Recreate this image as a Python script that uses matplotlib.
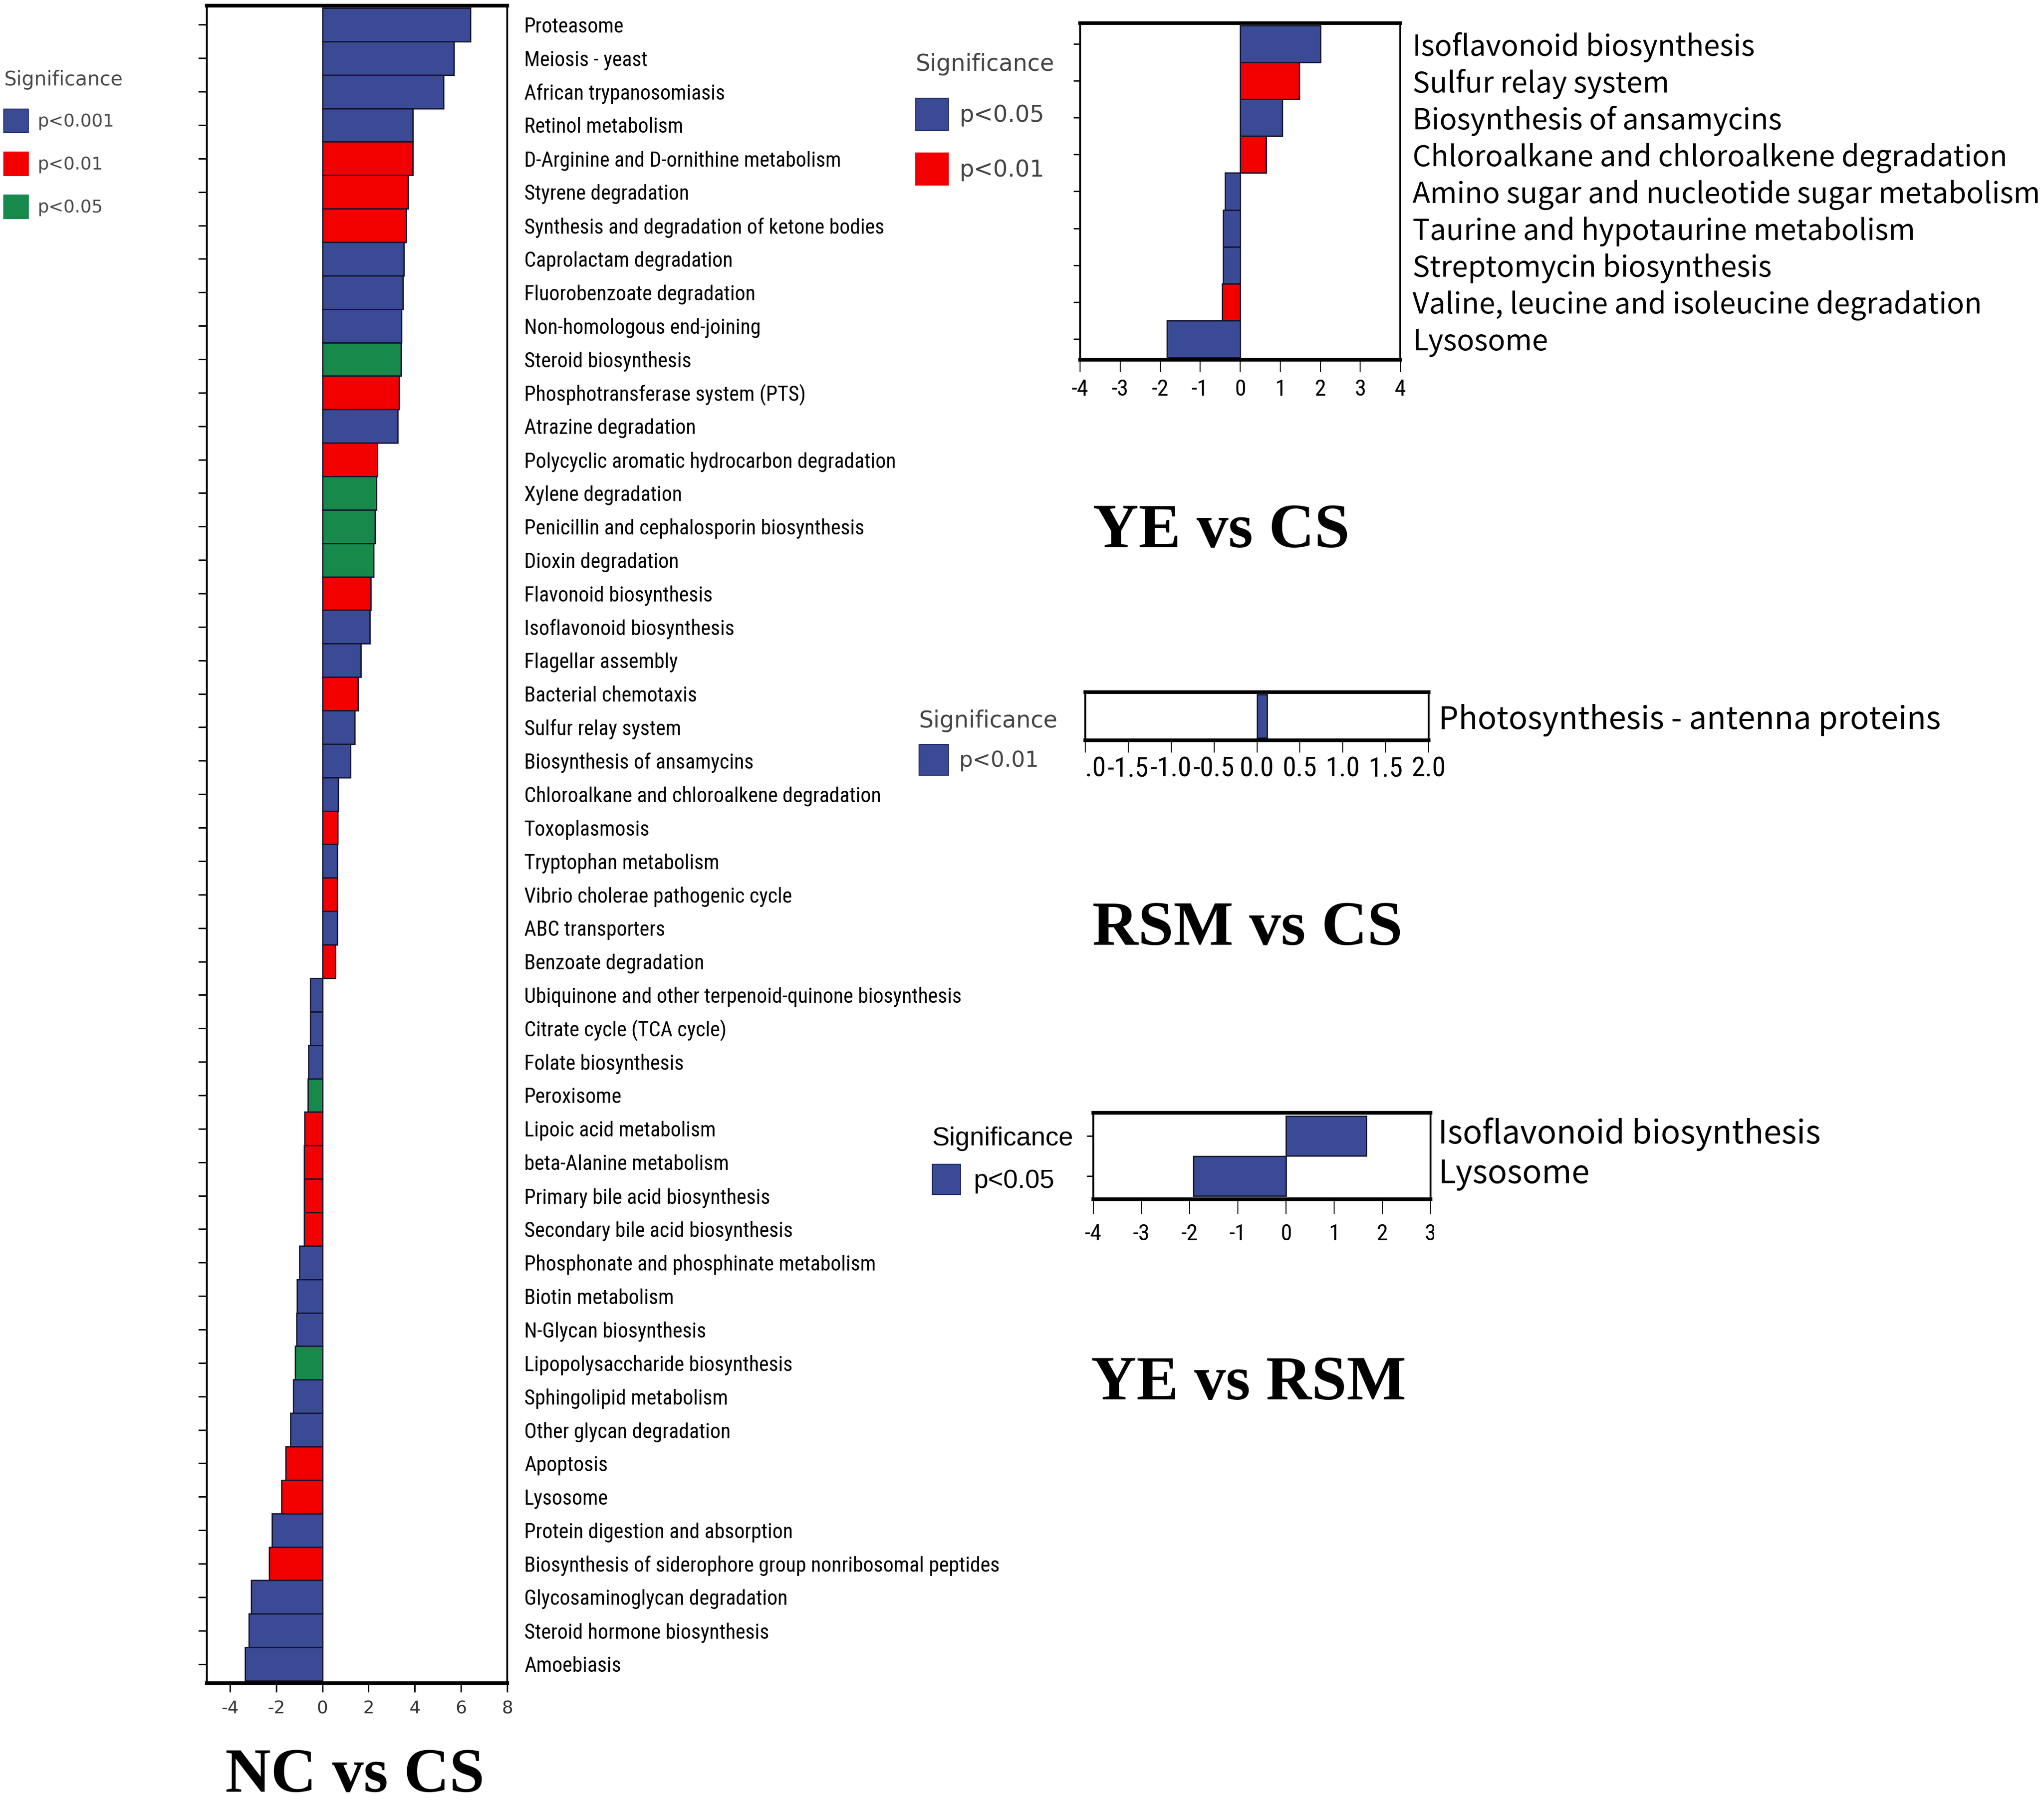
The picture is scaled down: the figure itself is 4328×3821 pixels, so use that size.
import matplotlib
matplotlib.use('Agg')
import matplotlib.pyplot as plt
from matplotlib.patches import Patch
from matplotlib.transforms import Bbox, TransformedBbox, ScaledTranslation

plt.rcParams['axes.unicode_minus'] = False

W, H = 4328, 3821
BLUE = '#3a4a95'
RED = '#f20000'
GREEN = '#178a4b'

NARROW = ['Liberation Sans Narrow', 'Roboto Condensed', 'Noto Sans Condensed',
          'DejaVu Sans Condensed', 'DejaVu Sans']
YAHEI = ['Noto Sans CJK SC', 'DejaVu Sans']
SERIF = ['Liberation Serif', 'DejaVu Serif']

# ---- NC vs CS ----
nc_pathways = [
    'Proteasome', 'Meiosis - yeast', 'African trypanosomiasis', 'Retinol metabolism',
    'D-Arginine and D-ornithine metabolism', 'Styrene degradation',
    'Synthesis and degradation of ketone bodies', 'Caprolactam degradation',
    'Fluorobenzoate degradation', 'Non-homologous end-joining', 'Steroid biosynthesis',
    'Phosphotransferase system (PTS)', 'Atrazine degradation',
    'Polycyclic aromatic hydrocarbon degradation', 'Xylene degradation',
    'Penicillin and cephalosporin biosynthesis', 'Dioxin degradation',
    'Flavonoid biosynthesis', 'Isoflavonoid biosynthesis', 'Flagellar assembly',
    'Bacterial chemotaxis', 'Sulfur relay system', 'Biosynthesis of ansamycins',
    'Chloroalkane and chloroalkene degradation', 'Toxoplasmosis', 'Tryptophan metabolism',
    'Vibrio cholerae pathogenic cycle', 'ABC transporters', 'Benzoate degradation',
    'Ubiquinone and other terpenoid-quinone biosynthesis', 'Citrate cycle (TCA cycle)',
    'Folate biosynthesis', 'Peroxisome', 'Lipoic acid metabolism', 'beta-Alanine metabolism',
    'Primary bile acid biosynthesis', 'Secondary bile acid biosynthesis',
    'Phosphonate and phosphinate metabolism', 'Biotin metabolism', 'N-Glycan biosynthesis',
    'Lipopolysaccharide biosynthesis', 'Sphingolipid metabolism', 'Other glycan degradation',
    'Apoptosis', 'Lysosome', 'Protein digestion and absorption',
    'Biosynthesis of siderophore group nonribosomal peptides', 'Glycosaminoglycan degradation',
    'Steroid hormone biosynthesis', 'Amoebiasis']
nc_values = [6.4, 5.7, 5.24, 3.91, 3.92, 3.71, 3.63, 3.52, 3.48, 3.43, 3.4, 3.32, 3.25,
             2.37, 2.33, 2.28, 2.22, 2.1, 2.05, 1.66, 1.55, 1.4, 1.22, 0.68, 0.67, 0.65,
             0.65, 0.65, 0.56, -0.52, -0.52, -0.6, -0.63, -0.77, -0.78, -0.78, -0.78,
             -1.0, -1.1, -1.12, -1.17, -1.25, -1.38, -1.58, -1.78, -2.18, -2.3, -3.08,
             -3.18, -3.35]
nc_sig = ['p<0.001', 'p<0.001', 'p<0.001', 'p<0.001', 'p<0.01', 'p<0.01', 'p<0.01',
          'p<0.001', 'p<0.001', 'p<0.001', 'p<0.05', 'p<0.01', 'p<0.001', 'p<0.01',
          'p<0.05', 'p<0.05', 'p<0.05', 'p<0.01', 'p<0.001', 'p<0.001', 'p<0.01',
          'p<0.001', 'p<0.001', 'p<0.001', 'p<0.01', 'p<0.001', 'p<0.01', 'p<0.001',
          'p<0.01', 'p<0.001', 'p<0.001', 'p<0.001', 'p<0.05', 'p<0.01', 'p<0.01',
          'p<0.01', 'p<0.01', 'p<0.001', 'p<0.001', 'p<0.001', 'p<0.05', 'p<0.001',
          'p<0.001', 'p<0.01', 'p<0.01', 'p<0.001', 'p<0.01', 'p<0.001', 'p<0.001',
          'p<0.001']
nc_levels = ['p<0.001', 'p<0.01', 'p<0.05']
nc_colors = [BLUE, RED, GREEN]

# ---- YE vs CS ----
ye_cs_pathways = ['Isoflavonoid biosynthesis', 'Sulfur relay system', 'Biosynthesis of ansamycins',
                  'Chloroalkane and chloroalkene degradation',
                  'Amino sugar and nucleotide sugar metabolism',
                  'Taurine and hypotaurine metabolism', 'Streptomycin biosynthesis',
                  'Valine, leucine and isoleucine degradation', 'Lysosome']
ye_cs_values = [2.0, 1.47, 1.05, 0.65, -0.38, -0.43, -0.43, -0.45, -1.83]
ye_cs_sig = ['p<0.05', 'p<0.01', 'p<0.05', 'p<0.01', 'p<0.05', 'p<0.05', 'p<0.05',
             'p<0.01', 'p<0.05']
ye_cs_levels = ['p<0.05', 'p<0.01']
ye_cs_colors = [BLUE, RED]

# ---- RSM vs CS ----
rsm_cs_pathways = ['Photosynthesis - antenna proteins']
rsm_cs_values = [0.12]
rsm_cs_sig = ['p<0.01']
rsm_cs_levels = ['p<0.01']
rsm_cs_colors = [BLUE]

# ---- YE vs RSM ----
ye_rsm_pathways = ['Isoflavonoid biosynthesis', 'Lysosome']
ye_rsm_values = [1.67, -1.92]
ye_rsm_sig = ['p<0.05', 'p<0.05']
ye_rsm_levels = ['p<0.05']
ye_rsm_colors = [BLUE]

fig = plt.figure(figsize=(W / 100, H / 100), dpi=100)
renderer = fig.canvas.get_renderer()


def fit_size(text, width_px, family, weight='normal', stretch='normal'):
    probe = fig.text(0, 0, text, fontsize=100, family=family, weight=weight,
                     fontstretch=stretch)
    w = probe.get_window_extent(renderer).width
    probe.remove()
    return 100 * width_px / w


def bar_panel(box, names, values, sig, levels, colors, margin, xlim, xticks):
    x0, y0, x1, y1 = box
    ax = fig.add_axes([x0 / W, 1 - y1 / H, (x1 - x0) / W, (y1 - y0) / H])
    palette = dict(zip(levels, colors))
    y = list(range(len(names)))
    ax.barh(y, values, height=1.0, color=[palette[s] for s in sig],
            edgecolor='#15152e', linewidth=2)
    ax.set_ylim(len(names) - 0.5 + margin, -0.5 - margin)
    ax.set_xlim(*xlim)
    ax.set_xticks(xticks)
    ax.set_yticks(y, names)
    for side in ('top', 'bottom'):
        ax.spines[side].set_linewidth(5.5)
    for side in ('left', 'right'):
        ax.spines[side].set_linewidth(2.8)
    ax.tick_params(axis='y', left=True, right=False, labelleft=False, labelright=True,
                   direction='out')
    return ax


def condense(labels):
    for t in labels:
        t.set_fontfamily(NARROW)
        t.set_fontstretch('condensed')


def clip_label(label, x0_px, x1_px):
    box = Bbox([[x0_px / W, 0], [x1_px / W, 1]])
    label.set_clip_box(TransformedBbox(box, fig.transFigure))
    label.set_clip_on(True)


def patch_height(target_px, size_pt):
    # legend handle height is fs*(0.65*hh + 0.245)
    fs = size_pt * 100 / 72
    return (target_px / fs - 0.245) / 0.65


def add_legend(levels, colors, x, y, size, title_size, family, color, hl, patch_px,
               spacing, textpad):
    handles = [Patch(facecolor=c, edgecolor='#1e2a66' if c == BLUE else c, linewidth=1.5)
               for c in colors]
    leg = fig.legend(handles, levels, title='Significance', loc='upper left',
                     bbox_to_anchor=(x / W, 1 - y / H), bbox_transform=fig.transFigure,
                     frameon=False, prop={'family': family, 'size': size},
                     title_fontproperties={'family': family, 'size': title_size},
                     handlelength=hl, handleheight=patch_height(patch_px, size),
                     handletextpad=textpad, labelspacing=spacing, borderpad=0,
                     borderaxespad=0, alignment='left')
    for t in leg.get_texts():
        t.set_color(color)
    leg.get_title().set_color(color)


def panel_title(text, xc, baseline, width_px):
    size = fit_size(text, width_px, SERIF, 'bold')
    fig.text(xc / W, 1 - baseline / H, text, ha='center', va='baseline',
             fontsize=size, family=SERIF, weight='bold')


# NC vs CS
ax = bar_panel((438, 12, 1074, 3565), nc_pathways, nc_values, nc_sig, nc_levels, nc_colors,
               0.07, (-5, 8), range(-4, 9, 2))
size = fit_size(max(nc_pathways, key=len), 1007, NARROW, stretch='condensed')
ax.tick_params(axis='y', length=13, width=2.2, pad=13, labelsize=size)
condense(ax.get_yticklabels())
ax.tick_params(axis='x', length=14, width=2.2, pad=12, labelsize=27, labelcolor='#333333')
add_legend(nc_levels, nc_colors, 8, 148, 27, 30, 'DejaVu Sans', '#4a4a4a', 1.39, 50, 1.09, 0.53)
panel_title('NC vs CS', 751, 3795, 549)

# YE vs CS
ax = bar_panel((2287, 49, 2965, 762), ye_cs_pathways, ye_cs_values, ye_cs_sig, ye_cs_levels,
               ye_cs_colors, 0.07, (-4, 4), range(-4, 5))
size = fit_size(max(ye_cs_pathways, key=len), 1328, YAHEI)
ax.tick_params(axis='y', length=10, width=2, pad=9, labelsize=size, labelfontfamily=YAHEI)
ax.tick_params(axis='x', length=19, width=1.5, pad=10, labelsize=35)
condense(ax.get_xticklabels())
add_legend(ye_cs_levels, ye_cs_colors, 1939, 112, 35, 35, 'DejaVu Sans', '#444444',
           1.42, 68, 0.99, 0.49)
panel_title('YE vs CS', 2586, 1159, 544)

# RSM vs CS
ax = bar_panel((2298, 1466, 3025, 1568), rsm_cs_pathways, rsm_cs_values, rsm_cs_sig,
               rsm_cs_levels, rsm_cs_colors, 0.05, (-2, 2), [-2 + 0.5 * i for i in range(9)])
ax.set_xticklabels([f'{v:.1f}' for v in ax.get_xticks()])
size = fit_size(rsm_cs_pathways[0], 1064, YAHEI)
ax.tick_params(axis='y', length=0, pad=15, labelsize=size, labelfontfamily=YAHEI)
ax.tick_params(axis='x', length=19, width=1.5, pad=5, labelsize=42)
condense(ax.get_xticklabels())
clip_label(ax.get_xticklabels()[0], 2300, 2400)
add_legend(rsm_cs_levels, rsm_cs_colors, 1946, 1503, 33, 35, 'DejaVu Sans', '#444444',
           1.35, 65, 0.57, 0.5)
panel_title('RSM vs CS', 2641, 2001, 657)

# YE vs RSM
ax = bar_panel((2315, 2357, 3029, 2540), ye_rsm_pathways, ye_rsm_values, ye_rsm_sig,
               ye_rsm_levels, ye_rsm_colors, 0.08, (-4, 3), range(-4, 4))
size = fit_size(ye_rsm_pathways[0], 810, YAHEI)
ax.tick_params(axis='y', length=10, width=2, pad=1.5, labelsize=size, labelfontfamily=YAHEI)
ax.tick_params(axis='x', length=22, width=1.5, pad=15, labelsize=35)
condense(ax.get_xticklabels())
clip_label(ax.get_xticklabels()[-1], 2950, 3036)
lift = ScaledTranslation(0, 0.12, fig.dpi_scale_trans)
for t in ax.get_yticklabels():
    t.set_transform(t.get_transform() + lift)
add_legend(ye_rsm_levels, ye_rsm_colors, 1974, 2386, 40, 40,
           ['Liberation Sans', 'DejaVu Sans'], 'black', 1.08, 64, 0.5, 0.49)
panel_title('YE vs RSM', 2644, 2964, 668)

fig.savefig('out.png', dpi=100)
